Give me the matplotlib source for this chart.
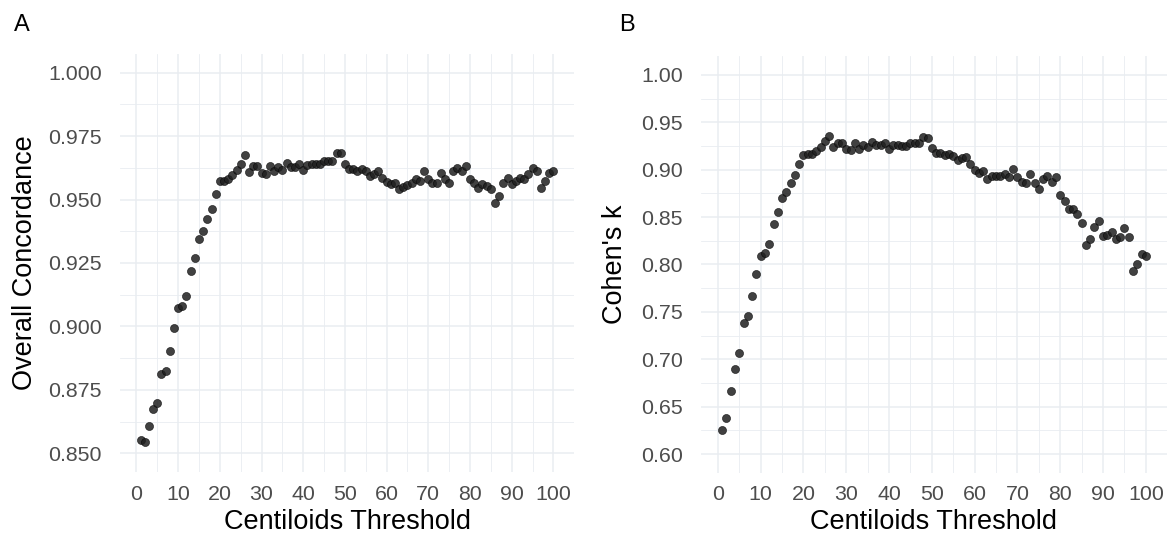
import numpy as np
import matplotlib
matplotlib.use("Agg")
import matplotlib.pyplot as plt
from matplotlib.ticker import MultipleLocator, FormatStrFormatter

plt.rcParams['font.family'] = ['Liberation Sans', 'DejaVu Sans']

# Centiloid thresholds 1..100
threshold = list(range(1, 101))

# panel A: overall concordance
concordance = [
    0.8554, 0.8545, 0.8607, 0.8673, 0.8699, 0.8811, 0.8825, 0.8903, 0.8995, 0.9074,
    0.9082, 0.9120, 0.9219, 0.9271, 0.9344, 0.9378, 0.9423, 0.9462, 0.9522, 0.9574,
    0.9574, 0.9580, 0.9598, 0.9615, 0.9640, 0.9674, 0.9609, 0.9632, 0.9632, 0.9606,
    0.9599, 0.9632, 0.9612, 0.9629, 0.9618, 0.9646, 0.9629, 0.9629, 0.9640, 0.9618,
    0.9635, 0.9642, 0.9642, 0.9639, 0.9652, 0.9652, 0.9652, 0.9685, 0.9685, 0.9639,
    0.9619, 0.9619, 0.9613, 0.9619, 0.9613, 0.9593, 0.9602, 0.9613, 0.9587, 0.9569,
    0.9560, 0.9567, 0.9541, 0.9550, 0.9556, 0.9567, 0.9580, 0.9573, 0.9613, 0.9580,
    0.9567, 0.9567, 0.9606, 0.9580, 0.9567, 0.9613, 0.9626, 0.9612, 0.9632, 0.9580,
    0.9567, 0.9547, 0.9563, 0.9554, 0.9541, 0.9488, 0.9514, 0.9567, 0.9587, 0.9560,
    0.9573, 0.9587, 0.9580, 0.9602, 0.9626, 0.9613, 0.9547, 0.9573, 0.9606, 0.9613,
]

# panel B: Cohen's kappa
kappa = [
    0.625, 0.638, 0.666, 0.690, 0.707, 0.738, 0.746, 0.767, 0.790, 0.809,
    0.812, 0.822, 0.843, 0.855, 0.870, 0.877, 0.886, 0.894, 0.906, 0.916,
    0.917, 0.917, 0.920, 0.924, 0.930, 0.936, 0.924, 0.928, 0.928, 0.922,
    0.921, 0.928, 0.922, 0.926, 0.924, 0.929, 0.926, 0.926, 0.928, 0.922,
    0.926, 0.926, 0.925, 0.925, 0.928, 0.928, 0.928, 0.935, 0.934, 0.923,
    0.918, 0.918, 0.916, 0.917, 0.915, 0.910, 0.912, 0.913, 0.906, 0.900,
    0.897, 0.899, 0.890, 0.893, 0.893, 0.893, 0.896, 0.892, 0.901, 0.892,
    0.887, 0.886, 0.895, 0.886, 0.880, 0.890, 0.893, 0.887, 0.892, 0.873,
    0.867, 0.859, 0.859, 0.853, 0.844, 0.821, 0.827, 0.840, 0.846, 0.830,
    0.831, 0.834, 0.827, 0.829, 0.838, 0.829, 0.793, 0.800, 0.811, 0.809,
]

GRID = '#E9EDF1'
TICK = '#4D4D4D'


def style_panel(ax, ylim, ystep, yfmt, ylabel, ylab_x):
    x_lo, x_hi = 1, 100
    pad = 0.05 * (x_hi - x_lo)
    ax.set_xlim(x_lo - pad, x_hi + pad)
    ypad = 0.05 * (ylim[1] - ylim[0])
    ax.set_ylim(ylim[0] - ypad, ylim[1] + ypad)

    ax.xaxis.set_major_locator(MultipleLocator(10))
    ax.xaxis.set_minor_locator(MultipleLocator(5))
    ax.yaxis.set_major_locator(MultipleLocator(ystep))
    ax.yaxis.set_minor_locator(MultipleLocator(ystep / 2))
    ax.yaxis.set_major_formatter(FormatStrFormatter(yfmt))

    ax.grid(which='major', color=GRID, linewidth=1.1)
    ax.grid(which='minor', color=GRID, linewidth=0.6)
    ax.set_axisbelow(True)
    for s in ax.spines.values():
        s.set_visible(False)
    ax.tick_params(which='both', length=0, labelsize=15.4, labelcolor=TICK)
    ax.tick_params(axis='y', pad=13)
    ax.tick_params(axis='x', pad=9)

    ax.set_xlabel('Centiloids Threshold', fontsize=19.5, color='black')
    ax.xaxis.set_label_coords(0.5, -0.118)
    ax.xaxis.label.set_va('center')
    ax.set_ylabel(ylabel, fontsize=19.5, color='black')
    ax.yaxis.set_label_coords(ylab_x, 0.5)
    ax.yaxis.label.set_va('center')


fig = plt.figure(figsize=(11.73, 5.38), dpi=100)
W, H = 1173, 538

axA = fig.add_axes([120 / W, (H - 472.3) / H, 454 / W, 418.6 / H])
axB = fig.add_axes([701 / W, (H - 473) / H, 466 / W, 417 / H])

axA.scatter(threshold, concordance, s=34, color='#1f1f1f', alpha=0.85,
            edgecolors='black', linewidths=0.4, zorder=3)
axB.scatter(threshold, kappa, s=34, color='#1f1f1f', alpha=0.85,
            edgecolors='black', linewidths=0.4, zorder=3)

style_panel(axA, (0.85, 1.0), 0.025, '%.3f', 'Overall Concordance', -0.21)
style_panel(axB, (0.60, 1.0), 0.05, '%.2f', "Cohen's k", -0.185)

fig.text(22 / W, 1 - 25 / H, 'A', fontsize=17, ha='center', va='center')
fig.text(627 / W, 1 - 25 / H, 'B', fontsize=17, ha='center', va='center')

fig.savefig('out.png', dpi=100, facecolor='white')
